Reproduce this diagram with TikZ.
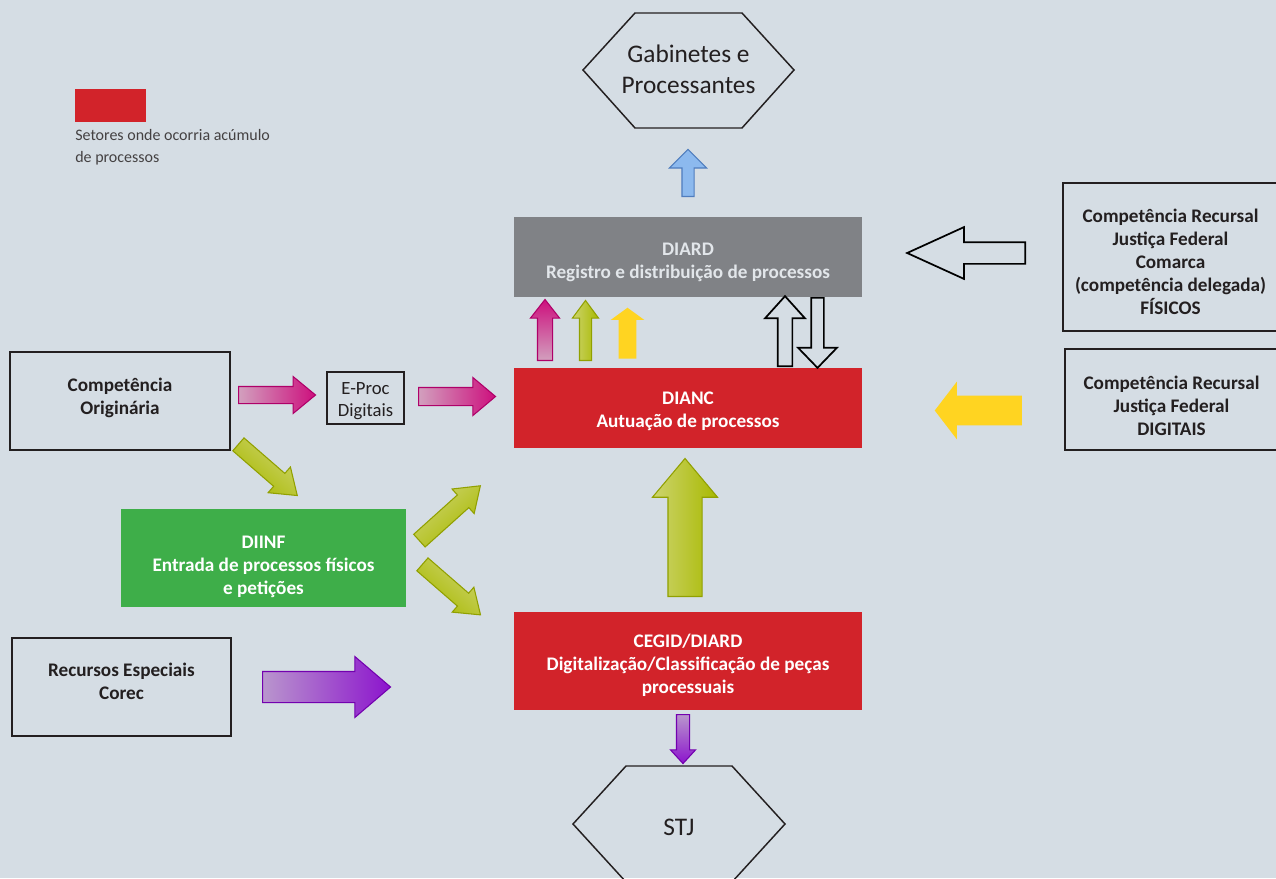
\documentclass[tikz,border=0pt]{standalone}
\usepackage{fontspec}
\setmainfont{Carlito}
\usetikzlibrary{shapes.arrows}

\definecolor{fundo}{RGB}{213,221,228}
\definecolor{cinza}{RGB}{128,130,134}
\definecolor{cinzatexto}{RGB}{226,230,234}
\definecolor{vermelho}{RGB}{210,35,42}
\definecolor{verde}{RGB}{62,174,73}
\definecolor{escuro}{RGB}{35,31,32}
\definecolor{rosa}{RGB}{205,15,125}
\definecolor{rosaescuro}{RGB}{160,0,95}
\definecolor{rosaclaro}{RGB}{210,160,190}
\definecolor{rosaborda}{RGB}{175,0,105}
\definecolor{oliva}{RGB}{168,185,0}
\definecolor{olivaclaro}{RGB}{205,212,110}
\definecolor{olivaborda}{RGB}{145,160,0}
\definecolor{roxo}{RGB}{140,20,205}
\definecolor{roxoescuro}{RGB}{110,0,165}
\definecolor{roxoclaro}{RGB}{185,150,205}
\definecolor{roxoborda}{RGB}{115,0,175}
\definecolor{amarelo}{RGB}{255,212,33}
\definecolor{azul}{RGB}{140,185,238}
\definecolor{azulborda}{RGB}{80,125,190}

\newcommand{\pxl}{0.75pt}

\tikzset{
    caixa/.style={draw=escuro, line width=1.2pt, inner sep=0pt},
    setor/.style={fill=#1, inner sep=0pt},
    texto/.style={align=center, inner sep=0pt, text=escuro,
        font=\bfseries\fontsize{14.4}{17.3}\selectfont},
    seta/.style n args={4}{single arrow, anchor=tail, inner xsep=0pt, inner ysep=#3/2*\pxl,
        single arrow head indent=0pt, minimum height=#1*\pxl, minimum width=#2*\pxl,
        single arrow head extend={(#2-#3)/2*\pxl}, single arrow tip angle=#4},
    setarosa/.style={draw=rosaborda, line width=0.8pt, left color=rosaclaro, middle color=rosaescuro, right color=rosa, shading angle=#1},
    setaroxa/.style={draw=roxoborda, line width=0.8pt, left color=roxoclaro, middle color=roxoescuro, right color=roxo, shading angle=#1},
    setaoliva/.style={draw=olivaborda, line width=0.8pt, top color=olivaclaro, bottom color=oliva, shading angle=#1},
    setavazia/.style={draw=black, line width=1.3pt},
    hexagono/.style={draw=escuro, line width=1.1pt},
}

\begin{document}
\begin{tikzpicture}[x=0.75pt, y=-0.75pt]

    \useasboundingbox (0,0) rectangle (1276,878);
    \fill[fundo] (0,0) rectangle (1276,878);  % fundo

    % legenda
    \node[fill=vermelho, minimum width=71*\pxl, minimum height=33*\pxl, inner sep=0pt] (legenda) at (110.5,105.5) {};
    \node[anchor=north west, align=left, inner sep=0pt, text=escuro!85,
        font=\fontsize{12}{16.5}\selectfont] (legtexto) at (75,129) {Setores onde ocorria acúmulo\\de processos};

    % hexagonos
    \draw[hexagono] (583,70) -- (635,13) -- (742,13) -- (794,70) -- (742,128) -- (635,128) -- cycle;
    \node[align=center, text=escuro, font=\fontsize{19}{23}\selectfont] (gabinetes) at (688.5,69) {Gabinetes e\\Processantes};
    \draw[hexagono] (573,824) -- (626,766) -- (732,766) -- (785,824) -- (732,882) -- (626,882) -- cycle;
    \node[text=escuro, font=\fontsize{19}{23}\selectfont] (stj) at (679,827) {STJ};

    % setores
    \node[setor=cinza, minimum width=348*\pxl, minimum height=80*\pxl] (diard) at (688,257) {};
    \node[texto, text=cinzatexto] at ([yshift=-3.75pt]diard.center) {DIARD\\Registro e distribuição de processos};
    \node[setor=vermelho, minimum width=348*\pxl, minimum height=80*\pxl] (dianc) at (688,408) {};
    \node[texto, text=white] at ([yshift=-2.6pt]dianc.center) {DIANC\\Autuação de processos};
    \node[setor=vermelho, minimum width=348*\pxl, minimum height=98*\pxl] (cegid) at (688,661) {};
    \node[texto, text=white] at ([yshift=-3pt]cegid.center) {CEGID/DIARD\\Digitalização/Classificação de peças\\processuais};
    \node[setor=verde, minimum width=285*\pxl, minimum height=98*\pxl] (diinf) at (263.5,558) {};
    \node[texto, text=white] at ([yshift=-6.75pt]diinf.center) {DIINF\\Entrada de processos físicos\\e petições};

    % caixas de entrada
    \node[caixa, minimum width=220*\pxl, minimum height=98*\pxl] (originaria) at (120,401) {};
    \node[texto] at ([yshift=2.25pt]originaria.center) {Competência\\Originária};
    \node[caixa, line width=1pt, minimum width=77*\pxl, minimum height=52*\pxl] (eproc) at (365.5,398) {};
    \node[texto, font=\fontsize{14}{16.5}\selectfont] at ([yshift=-2.25pt]eproc.center) {E-Proc\\Digitais};
    \node[caixa, minimum width=219*\pxl, minimum height=98*\pxl] (especiais) at (121.5,687) {};
    \node[texto] at ([yshift=4.5pt]especiais.center) {Recursos Especiais\\Corec};
    \node[caixa, minimum width=215*\pxl, minimum height=148*\pxl] (fisicos) at (1170.5,257) {};
    \node[texto] at ([yshift=-3.75pt]fisicos.center) {Competência Recursal\\Justiça Federal\\Comarca\\(competência delegada)\\FÍSICOS};
    \node[caixa, minimum width=213*\pxl, minimum height=101*\pxl] (digitais) at (1171.5,399.5) {};
    \node[texto] at ([yshift=-4.5pt]digitais.center) {Competência Recursal\\Justiça Federal\\DIGITAIS};

    % setas (posicionadas pela cauda)
    \node[seta={47}{36}{11}{90}, rotate=90, fill=azul, draw=azulborda, line width=0.8pt] (setaazul) at (688,197) {};  % para gabinetes
    \node[seta={61}{28}{14}{76}, rotate=90, setarosa=180] (rosaA) at (545,361) {};
    \node[seta={60}{25}{11}{73}, rotate=90, setaoliva=90] (olivaA) at (585.5,361) {};
    \node[seta={51}{33}{17}{108}, rotate=90, fill=amarelo] (amareloA) at (627.5,359) {};
    \node[seta={70}{38}{13}{84}, rotate=90, setavazia] (sobe) at (785,367) {};
    \node[seta={70}{37}{11}{88}, rotate=-90, setavazia] (desce) at (817.5,297) {};
    \node[seta={118}{50}{20}{49}, rotate=180, setavazia] (setafisicos) at (1026,253) {};
    \node[seta={87}{57}{29}{105}, rotate=180, fill=amarelo] (setadigitais) at (1022,410.5) {};
    \node[seta={77}{36}{16}{79}, setarosa=90] (rosaB) at (238,395) {};
    \node[seta={77}{37}{17}{80}, setarosa=90] (rosaC) at (418,396.5) {};
    \node[seta={78}{33}{16}{71}, rotate=-41, setaoliva=-41] (olivaB) at (238,444) {};
    \node[seta={82}{32}{16}{71}, rotate=42, setaoliva=42] (olivaC) at (419,541) {};
    \node[seta={77}{32}{16}{71}, rotate=-41, setaoliva=-41] (olivaD) at (422,564) {};
    \node[seta={138}{64}{33}{80}, rotate=90, setaoliva=90] (olivagrande) at (685,597) {};
    \node[seta={128}{60}{30}{81}, setaroxa=90] (roxoA) at (262,687) {};
    \node[seta={49}{24}{12}{85}, rotate=-90, setaroxa=0] (roxoB) at (683,714) {};  % para STJ

\end{tikzpicture}
\end{document}
